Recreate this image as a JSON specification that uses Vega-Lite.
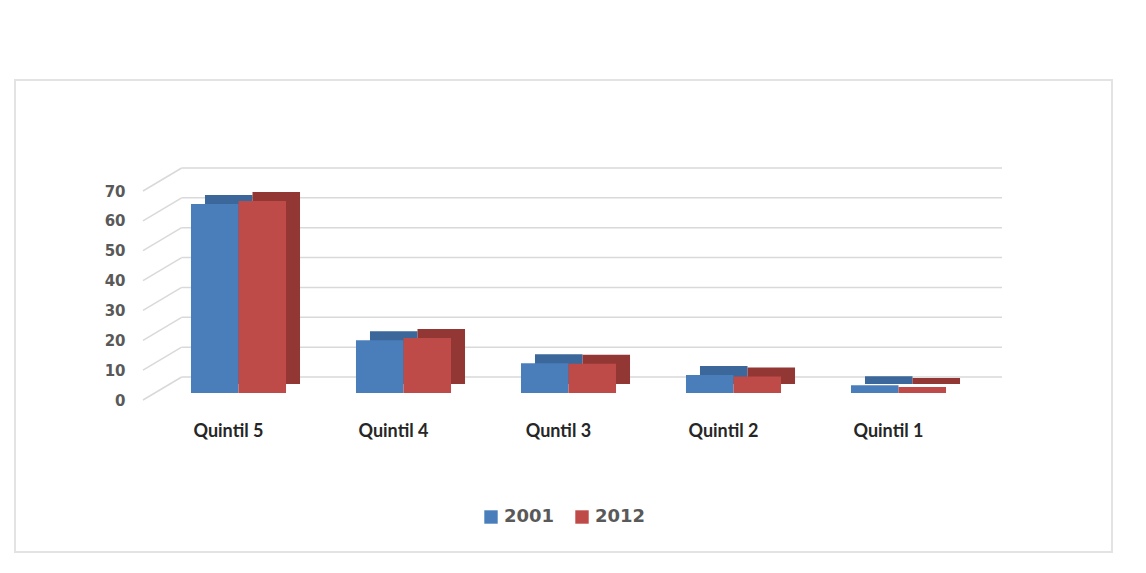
{
  "$schema": "https://vega.github.io/schema/vega-lite/v6.json",
  "width": 1097,
  "height": 472,
  "autosize": {"type": "none"},
  "padding": {"left": 15, "top": 80, "right": 34, "bottom": 21},
  "background": "white",
  "config": {"view": {"stroke": "#E3E3E3", "strokeWidth": 2}},
  "datasets": {
    "bars": [
      {"quintil": "Quintil 5", "year": "2001", "value": 63.3},
      {"quintil": "Quintil 5", "year": "2012", "value": 64.3},
      {"quintil": "Quintil 4", "year": "2001", "value": 17.7},
      {"quintil": "Quintil 4", "year": "2012", "value": 18.4},
      {"quintil": "Quntil 3", "year": "2001", "value": 10.0},
      {"quintil": "Quntil 3", "year": "2012", "value": 9.8},
      {"quintil": "Quintil 2", "year": "2001", "value": 6.0},
      {"quintil": "Quintil 2", "year": "2012", "value": 5.5},
      {"quintil": "Quintil 1", "year": "2001", "value": 2.6},
      {"quintil": "Quintil 1", "year": "2012", "value": 2.0}
    ],
    "grid": [
      {"v": 0}, {"v": 10}, {"v": 20}, {"v": 30}, {"v": 40}, {"v": 50}, {"v": 60}, {"v": 70}
    ]
  },
  "layer": [
    {
      "data": {"name": "grid"},
      "mark": {"type": "rule", "color": "#D9D9D9", "strokeWidth": 1.5, "yOffset": -16},
      "encoding": {
        "y": {"field": "v", "type": "quantitative", "scale": {"domain": [0, 70], "range": [313, 104]}, "axis": null},
        "x": {"datum": 0.045, "type": "quantitative", "scale": {"domain": [0, 1], "range": [128, 987]}, "axis": null},
        "x2": {"datum": 1}
      }
    },
    {
      "data": {"name": "grid"},
      "mark": {"type": "rule", "color": "#D9D9D9", "strokeWidth": 1.5, "yOffset": 7, "y2Offset": -16},
      "encoding": {
        "y": {"field": "v", "type": "quantitative", "scale": {"domain": [0, 70], "range": [313, 104]}, "axis": null},
        "y2": {"field": "v"},
        "x": {"datum": 0, "type": "quantitative", "scale": {"domain": [0, 1], "range": [128, 987]}, "axis": null},
        "x2": {"datum": 0.045}
      }
    },
    {
      "data": {"name": "bars"},
      "mark": {"type": "bar", "yOffset": -9},
      "encoding": {
        "x": {"field": "quintil", "type": "nominal", "sort": ["Quintil 5", "Quintil 4", "Quntil 3", "Quintil 2", "Quintil 1"], "scale": {"range": [155, 980], "paddingInner": 0.424, "paddingOuter": 0.212}, "axis": null},
        "xOffset": {"field": "year", "type": "nominal", "scale": {"paddingInner": 0}},
        "y": {"field": "value", "type": "quantitative", "scale": {"domain": [0, 70], "range": [313, 104]}, "axis": null},
        "color": {"field": "year", "type": "nominal", "scale": {"domain": ["2001", "2012"], "range": ["#3B679A", "#933735"]}, "legend": null}
      }
    },
    {
      "data": {"name": "bars"},
      "mark": {"type": "bar"},
      "encoding": {
        "x": {"field": "quintil", "type": "nominal", "sort": ["Quintil 5", "Quintil 4", "Quntil 3", "Quintil 2", "Quintil 1"], "scale": {"range": [141, 966], "paddingInner": 0.424, "paddingOuter": 0.212},
          "axis": {"title": null, "domain": false, "ticks": false, "labelAngle": 0, "labelFont": "Lato", "labelFontWeight": "bold", "labelFontSize": 18, "labelColor": "#262626", "offset": -130, "labelPadding": 0, "labelOffset": -10}},
        "xOffset": {"field": "year", "type": "nominal", "scale": {"paddingInner": 0}},
        "y": {"field": "value", "type": "quantitative", "scale": {"domain": [0, 70], "range": [313, 104]},
          "axis": {"title": null, "orient": "left", "offset": -114, "labelPadding": 4, "domain": false, "ticks": false, "grid": false, "values": [0, 10, 20, 30, 40, 50, 60, 70], "labelOffset": 7, "labelFont": "DejaVu Sans", "labelFontWeight": "bold", "labelFontSize": 15, "labelColor": "#595959"}},
        "color": {"field": "year", "type": "nominal", "scale": {"domain": ["2001", "2012"], "range": ["#4A7EBB", "#BE4B48"]},
          "legend": {"orient": "none", "legendX": 467, "legendY": 428, "direction": "horizontal", "title": null, "symbolType": "square", "symbolSize": 180, "symbolStrokeWidth": 0, "labelFont": "DejaVu Sans", "labelFontWeight": "bold", "labelFontSize": 18, "labelColor": "#595959", "columnPadding": 18}}
      }
    }
  ],
  "resolve": {"scale": {"x": "independent", "y": "independent", "color": "independent"}}
}
